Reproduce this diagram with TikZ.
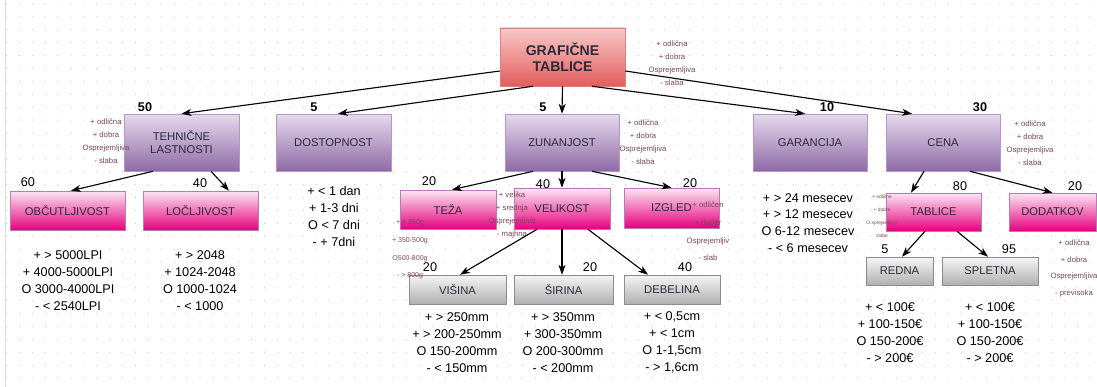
\documentclass[tikz,border=0pt]{standalone}
\usepackage{fontspec}
\setmainfont{Liberation Sans}
\usetikzlibrary{arrows.meta,calc}

\definecolor{roottop}{HTML}{F9C9C9}
\definecolor{rootbot}{HTML}{E35D5D}
\definecolor{rootdraw}{HTML}{D98080}
\definecolor{purtop}{HTML}{E6DAEE}
\definecolor{purbot}{HTML}{8E6AA6}
\definecolor{purdraw}{HTML}{B596C6}
\definecolor{magtop}{HTML}{FBE6F2}
\definecolor{magbot}{HTML}{E6007E}
\definecolor{magdraw}{HTML}{B57BB6}
\definecolor{graytop}{HTML}{F5F5F5}
\definecolor{graybot}{HTML}{B0B0B0}
\definecolor{graydraw}{HTML}{8C8C8C}
\definecolor{boxtext}{HTML}{2A2A3A}
\definecolor{ocenatext}{HTML}{7A4655}
\definecolor{dotcol}{HTML}{C4C4C4}

\newcommand{\pxu}{0.025cm}

\tikzset{
  box/.style={draw, rectangle, inner sep=0pt, align=center, text=boxtext,
    font=\fontsize{8}{9.4}\selectfont},
  rootbox/.style={box, draw=rootdraw, top color=roottop, bottom color=rootbot,
    font=\fontsize{10}{11.3}\selectfont\bfseries,
    minimum width=125*\pxu, minimum height=58*\pxu},
  topbox/.style={box, draw=purdraw, top color=purtop, bottom color=purbot,
    minimum width=115*\pxu, minimum height=57*\pxu},
  midbox/.style={box, draw=magdraw, top color=magtop, bottom color=magbot,
    minimum width=96*\pxu, minimum height=40*\pxu},
  lowbox/.style={box, draw=graydraw, top color=graytop, bottom color=graybot,
    minimum width=97*\pxu, minimum height=29*\pxu},
  num/.style={inner sep=0pt, font=\fontsize{9}{9}\selectfont},
  topnum/.style={num, font=\fontsize{9}{9}\selectfont\bfseries},
  ocena/.style={align=center, inner sep=0pt, text=ocenatext,
    font=\fontsize{5.5}{9.3}\selectfont},
  seznam/.style={align=center, inner sep=0pt, font=\fontsize{9}{12}\selectfont},
  pov/.style={-{Stealth[length=7pt,width=5pt,inset=2pt]}, line width=0.8pt}
}

\begin{document}
\begin{tikzpicture}[x=\pxu, y=-\pxu]
  \useasboundingbox (0,0) rectangle (1097,387);
  \fill[white] (0,0) rectangle (1097,387);
  \draw[gray!25] (5.5,0) -- (5.5,387);
  \foreach \i in {0,...,84} {
    \foreach \j in {0,...,29} {
      \fill[dotcol] (6.5+12.9*\i, 4+12.9*\j) circle[radius=0.4pt];
    }
  }

  \node[rootbox] (root) at (562.5,57) {GRAFIČNE\\TABLICE};

  \node[topbox] (tehn) at (181.5,142.5) {TEHNIČNE\\LASTNOSTI};
  \node[topbox] (dost) at (333.5,142.5) {DOSTOPNOST};
  \node[topbox, minimum width=114*\pxu] (zun) at (562,142.5) {ZUNANJOST};
  \node[topbox, minimum width=114*\pxu] (gar) at (810,142.5) {GARANCIJA};
  \node[topbox, minimum width=114*\pxu] (cena) at (943,142.5) {CENA};

  \node[midbox, minimum width=115*\pxu, minimum height=39*\pxu] (obc) at (67.5,210.5) {OBČUTLJIVOST};
  \node[midbox, minimum width=115*\pxu, minimum height=39*\pxu] (locl) at (200.5,210.5) {LOČLJIVOST};
  \node[midbox, minimum height=39*\pxu] (teza) at (448,209.5) {TEŽA};
  \node[midbox, minimum height=41*\pxu] (vel) at (562,208.5) {VELIKOST};
  \node[midbox, minimum width=95*\pxu] (izg) at (671.5,208) {IZGLED};
  \node[midbox, minimum width=95*\pxu, minimum height=38*\pxu] (tab) at (933.5,212) {TABLICE};
  \node[midbox, minimum width=87*\pxu, minimum height=38*\pxu] (dod) at (1052.5,212) {DODATKOV};

  \node[lowbox] (vis) at (457.5,289.5) {VIŠINA};
  \node[lowbox, minimum width=99*\pxu] (sir) at (563.5,289.5) {ŠIRINA};
  \node[lowbox, minimum width=96*\pxu] (deb) at (672,289.5) {DEBELINA};
  \node[lowbox, minimum width=67*\pxu, minimum height=28*\pxu] (redna) at (899.5,271) {REDNA};
  \node[lowbox, minimum width=96*\pxu, minimum height=28*\pxu] (spletna) at (990,271) {SPLETNA};

  \node[topnum] (ntehn) at (145,107) {50};
  \node[topnum] (ndost) at (314,107) {5};
  \node[topnum] (nzun) at (543,107) {5};
  \node[topnum] (ngar) at (827,107) {10};
  \node[topnum] (ncena) at (980,107) {30};
  \node[num] (nobc) at (28,182) {60};
  \node[num] (nlocl) at (200,183) {40};
  \node[num] (nteza) at (429,181) {20};
  \node[num] (nvel) at (543,184) {40};
  \node[num] (nizg) at (690,183) {20};
  \node[num] (nvis) at (430,267) {20};
  \node[num] (nsir) at (590,267) {20};
  \node[num] (ndeb) at (685,267) {40};
  \node[num] (ntab) at (960,186) {80};
  \node[num] (ndod) at (1075,186) {20};
  \node[num] (nredna) at (885,249) {5};
  \node[num] (nspletna) at (1009,249) {95};

  \node[seznam] (sobc) at (68,280.5) {+ > 5000LPI\\+ 4000-5000LPI\\O 3000-4000LPI\\- < 2540LPI};
  \node[seznam] (slocl) at (200,280.5) {+ > 2048\\+ 1024-2048\\O 1000-1024\\- < 1000};
  \node[seznam] (sdost) at (334,216.5) {+ < 1 dan\\+ 1-3 dni\\O < 7 dni\\- + 7dni};
  \node[seznam] (sgar) at (808,223) {+ > 24 mesecev\\+ > 12 mesecev\\O 6-12 mesecev\\- < 6 mesecev};
  \node[seznam] (svis) at (457,342.5) {+ > 250mm\\+ > 200-250mm\\O 150-200mm\\- < 150mm};
  \node[seznam] (ssir) at (563,342.5) {+ > 350mm\\+ 300-350mm\\O 200-300mm\\- < 200mm};
  \node[seznam] (sdeb) at (672,342.5) {+ < 0,5cm\\+ < 1cm\\O 1-1,5cm\\- > 1,6cm};
  \node[seznam] (sredna) at (890,332.5) {+ < 100€\\+ 100-150€\\O 150-200€\\- > 200€};
  \node[seznam] (sspletna) at (990,332.5) {+ < 100€\\+ 100-150€\\O 150-200€\\- > 200€};

  \node[ocena] (oroot) at (672,63.5) {+ odlična\\+ dobra\\Osprejemljiva\\- slaba};
  \node[ocena] (otehn) at (106,141) {+ odlična\\+ dobra\\Osprejemljiva\\- slaba};
  \node[ocena] (ozun) at (643,142.5) {+ odlična\\+ dobra\\Osprejemljiva\\- slaba};
  \node[ocena] (ocen) at (1030,143.5) {+ odlična\\+ dobra\\Osprejemljiva\\- slaba};
  \node[ocena] (ovel) at (512,215) {+ velika\\+ srednja\\Osprejemljiva\\- majhna};
  \node[ocena, font=\fontsize{5}{12.5}\selectfont] (oteza) at (410,249.5) {+ < 350g\\+ 350-500g\\O500-800g\\- > 800g};
  \node[ocena, font=\fontsize{5.5}{12.5}\selectfont] (oizg) at (708,231.5) {+ odličen\\+ dober\\Osprejemljiv\\- slab};
  \node[ocena, font=\fontsize{3.5}{9.3}\selectfont] (otab) at (882,216.5) {+ odlične\\+ dobre\\O sprejemljive\\slabe};
  \node[ocena, font=\fontsize{5.5}{12}\selectfont] (odod) at (1074,268.5) {+ odlična\\+ dobra\\Osprejemljiva\\- previsoka};

  \draw[pov] ($(root.west)+(0,14)$) -- (tehn.north);
  \draw[pov] ($(root.south)+(-29.5,0)$) -- ($(dost.north)+(4.5,0)$);
  \draw[pov] (root.south) -- (zun.north);
  \draw[pov] ($(root.south)+(29.5,0)$) -- ($(gar.north)+(-5,0)$);
  \draw[pov] ($(root.east)+(0,14)$) -- ($(cena.north)+(-31,0)$);

  \draw[pov] ($(tehn.south)+(-28.5,0)$) -- ($(obc.north)+(3.5,0)$);
  \draw[pov] ($(tehn.south)+(29.5,0)$) -- ($(locl.north)+(28.5,0)$);
  \draw[pov] ($(zun.south)+(-29,0)$) -- ($(teza.north)+(4,0)$);
  \draw[pov] (zun.south) -- (vel.north);
  \draw[pov] ($(zun.south)+(30,0)$) -- (izg.north);
  \draw[pov] ($(cena.south)+(-19,0)$) -- ($(tab.north)+(-22.5,0)$);
  \draw[pov] ($(cena.south)+(27,0)$) -- (dod.north);

  \draw[pov] ($(vel.south)+(-25,0)$) -- ($(vis.north)+(2.5,0)$);
  \draw[pov] (vel.south) -- (vel.south |- sir.north);
  \draw[pov] ($(vel.south)+(26,0)$) -- ($(deb.north)+(-24,0)$);
  \draw[pov] ($(tab.south)+(-8.5,0)$) -- ($(redna.north)+(2.5,0)$);
  \draw[pov] ($(tab.south)+(23.5,0)$) -- ($(spletna.north)+(-2,0)$);
\end{tikzpicture}
\end{document}
